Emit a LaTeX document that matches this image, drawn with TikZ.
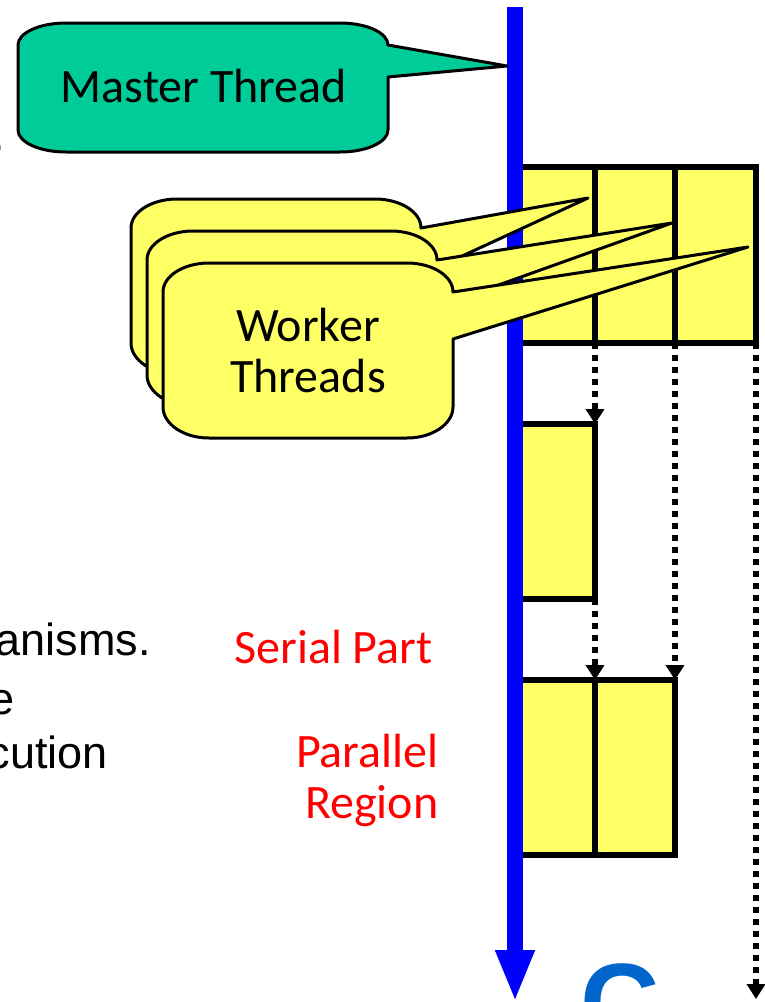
\documentclass[tikz,border=0pt]{standalone}
\usepackage{fontspec}
\setmainfont{Carlito}
\newfontfamily\arialfont{Liberation Sans}
\usetikzlibrary{arrows.meta,positioning}

\definecolor{mastergreen}{RGB}{0,204,153}
\definecolor{threadyellow}{RGB}{255,255,102}
\definecolor{logoblue}{RGB}{0,102,204}

\tikzset{
  cell/.style={draw=black, fill=threadyellow, line width=5.5pt, outer sep=0pt, inner sep=0pt, anchor=north west},
  bubble/.style={draw=black, line width=3pt, line join=round},
  dotarrow/.style={line width=5.5pt, dash pattern=on 5.5pt off 6.5pt, -{Triangle[width=18pt,length=15pt]}},
  masterline/.style={line width=16pt, blue, -{Triangle[width=36pt,length=52pt]}},
  bigfont/.style={font=\fontsize{48}{51}\selectfont},
  bodyfont/.style={font=\arialfont\fontsize{45}{54}\selectfont, inner sep=0pt, anchor=base east}
}

\begin{document}
\begin{tikzpicture}[x=1pt,y=-1pt]
    \clip (0,0) rectangle (765,1002);

    % Cut-off slide text on the left
    \node[bodyfont] (frag0) at (5,150) {.};
    \node[bodyfont] (frag1) at (151,655) {anisms.};
    \node[bodyfont] (frag2) at (15,714) {e};
    \node[bodyfont] (frag3) at (108,768) {cution};

    % Fork: three threads
    \node[cell, minimum width=80pt, minimum height=176pt] (fork1) at (515,167) {};
    \node[cell, minimum width=80pt, minimum height=176pt] (fork2) at (fork1.north east) {};
    \node[cell, minimum width=81pt, minimum height=176pt] (fork3) at (fork2.north east) {};
    % Serial part: one thread
    \node[cell, minimum width=80pt, minimum height=175pt] (serial) at (515,424) {};
    % Parallel region: two threads
    \node[cell, minimum width=80pt, minimum height=175pt] (par1) at (515,680) {};
    \node[cell, minimum width=80pt, minimum height=175pt] (par2) at (par1.north east) {};

    % Dotted hand-overs between the regions
    \coordinate (join3) at (756,999);
    \draw[dotarrow] (fork1.south east) -- (serial.north east);
    \draw[dotarrow] (serial.south east) -- (par1.north east);
    \draw[dotarrow] (fork2.south east) -- (par2.north east);
    \draw[dotarrow] (fork3.south east) -- (join3);

    % Master thread time line
    \coordinate (mtop) at (515,7);
    \coordinate (mend) at (515,1002);
    \draw[masterline] (mtop) -- (mend);

    % Master Thread callout
    % corners: x radius 48, y radius 22
    \draw[bubble, fill=mastergreen] (66,23) -- (340,23)
        .. controls (366.5,23) and (388,32.8) .. (388,45)
        -- (507,66) -- (388,77) -- (388,130)
        .. controls (388,142.2) and (366.5,152) .. (340,152)
        -- (66,152)
        .. controls (39.5,152) and (18,142.2) .. (18,130)
        -- (18,45)
        .. controls (18,32.8) and (39.5,23) .. (66,23) -- cycle;
    \node[bigfont, anchor=base] (mastertext) at (204,102) {Master Thread};

    % Worker Threads callouts, stacked back to front
    % corners: x radius 46, y radius 29
    \foreach \d/\tx/\ty in {0/588/198, 16/656/191, 32/716/183} {
      \begin{scope}[shift={(\d,2*\d)}]
        \draw[bubble, fill=threadyellow] (177,199) -- (375,199)
            .. controls (400.4,199) and (421,212) .. (421,228)
            -- (\tx,\ty) -- (421,275) -- (421,343)
            .. controls (421,360) and (400.4,374) .. (375,374)
            -- (177,374)
            .. controls (151.6,374) and (131,360) .. (131,343)
            -- (131,228)
            .. controls (131,212) and (151.6,199) .. (177,199) -- cycle;
      \end{scope}
    }
    \node[bigfont, align=center] (workers) at (308,351) {Worker\\Threads};

    % Red labels
    \node[bigfont, text=red, anchor=base east] (seriallabel) at (436,663) {Serial Part};
    \node[bigfont, text=red, align=right, anchor=base east] (parlabel) at (442,818) {Parallel\\Region};

    % Logo letter cut at the bottom
    \node[font=\arialfont\bfseries\fontsize{110}{110}\selectfont, text=logoblue, anchor=base west, inner sep=0pt] (logo) at (580,1040) {C};
\end{tikzpicture}
\end{document}
